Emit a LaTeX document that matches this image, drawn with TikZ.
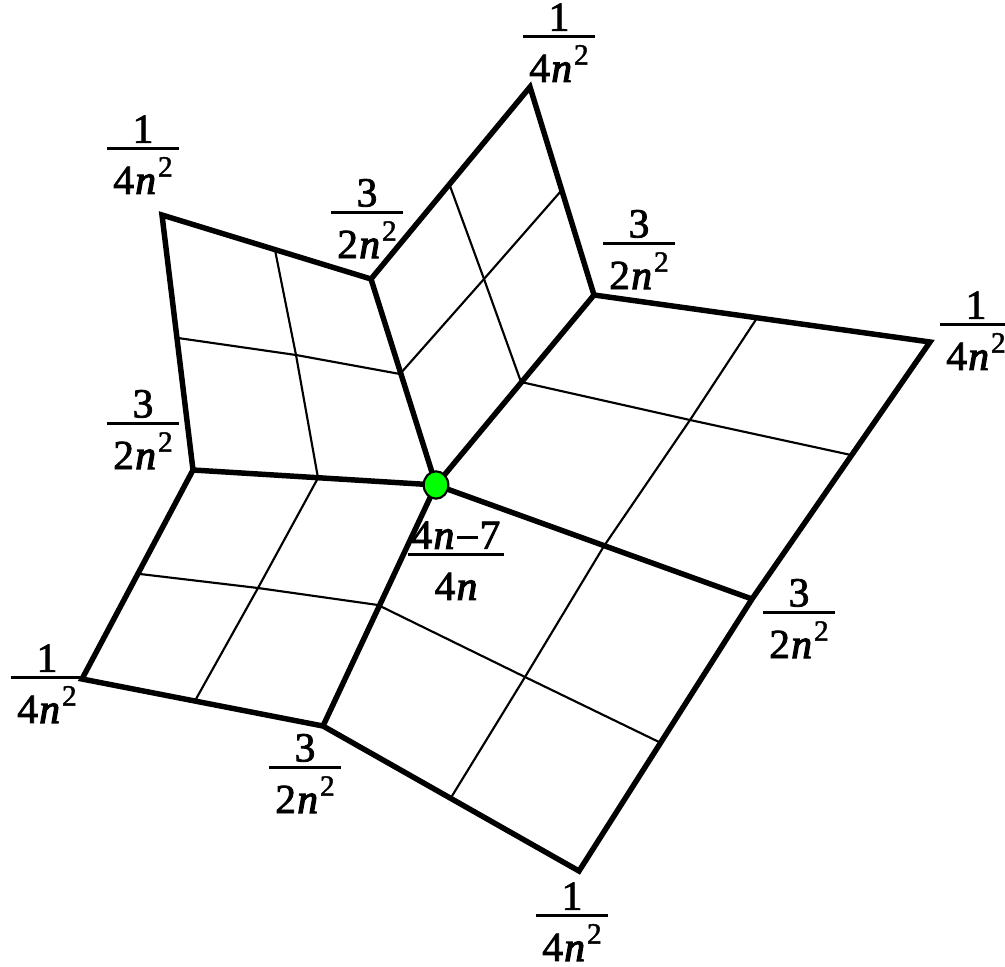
\documentclass[tikz,border=0pt]{standalone}
\usepackage{fontspec}
\setmainfont[FakeBold=2]{Liberation Serif}
\newfontfamily\itfont[FakeBold=3]{Liberation Serif Italic}
\newfontfamily\supfont[FakeBold=1.5]{Liberation Serif}
\usetikzlibrary{shapes.geometric}
\newdimen\fracw
\newcommand{\fracbox}[3]{\fracw=#1\hbox to \fracw{\vbox{\hbox to \fracw{\hss#2\hss}\kern3.1pt\hrule height 2.3pt width \fracw}\hskip-\fracw\vtop{\kern12.5pt\hbox to \fracw{\hss#3\hss}}}}
\newcommand{\en}{\kern1pt{\itfont n}}
\newcommand{\sqr}{\kern1.5pt\raisebox{13pt}[0pt][0pt]{\fontsize{22}{22}\selectfont\supfont 2}}
\newcommand{\oneover}{\fracbox{54pt}{1}{4\en\sqr}}
\newcommand{\threeover}{\fracbox{54pt}{3}{2\en\sqr}}
\tikzset{
  heavy/.style={line width=4.1pt,line join=miter,miter limit=10},
  light/.style={line width=1.6pt},
  fraclabel/.style={anchor=base,inner sep=0pt,font=\fontsize{31}{33}\selectfont},
  hub/.style={ellipse,draw=black,line width=1.6pt,fill=green,minimum width=18.5pt,minimum height=20.5pt,inner sep=0pt}
}
\begin{document}
\begin{tikzpicture}[x=0.75pt,y=-0.75pt]
\useasboundingbox (0,0) rectangle (1005,966);
% vertices
\coordinate (C) at (436,485);
\coordinate (T) at (530,87);
\coordinate (A) at (371,279);
\coordinate (B) at (594,295);
\coordinate (R) at (930,342);
\coordinate (D) at (752,599);
\coordinate (S) at (579,871);
\coordinate (E) at (323,726);
\coordinate (L) at (82,679);
\coordinate (F) at (193,470);
\coordinate (U) at (162,215);
% edge midpoints
\coordinate (mAT) at (450,186);
\coordinate (mTB) at (561,191);
\coordinate (mCA) at (400,374);
\coordinate (mCB) at (521,382);
\coordinate (mUA) at (275,250);
\coordinate (mUF) at (178,338);
\coordinate (mCF) at (318,478);
\coordinate (mBR) at (757,318);
\coordinate (mRD) at (851,455);
\coordinate (mCD) at (604,546);
\coordinate (mDS) at (659,742);
\coordinate (mSE) at (452,796);
\coordinate (mCE) at (378,605);
\coordinate (mEL) at (196,699);
\coordinate (mLF) at (140,574);
% interior crossings
\coordinate (xTop) at (484,279);
\coordinate (xUL) at (296,355);
\coordinate (xR) at (690,420);
\coordinate (xS) at (525,677);
\coordinate (xL) at (258,588);
% thin lines
\draw[light] (mAT) -- (xTop) -- (mCB);
\draw[light] (mTB) -- (xTop) -- (mCA);
\draw[light] (mUA) -- (xUL) -- (mCF);
\draw[light] (mUF) -- (xUL) -- (mCA);
\draw[light] (mBR) -- (xR) -- (mCD) -- (xS) -- (mSE);
\draw[light] (mCB) -- (xR) -- (mRD);
\draw[light] (mCE) -- (xS) -- (mDS);
\draw[light] (mLF) -- (xL) -- (mCE);
\draw[light] (mCF) -- (xL) -- (mEL);
% thick lines
\draw[heavy] (U) -- (A) -- (T) -- (B) -- (R) -- (D) -- (S) -- (E) -- (L) -- (F) -- cycle;
\draw[heavy] (C) -- (A);
\draw[heavy] (C) -- (B);
\draw[heavy] (C) -- (D);
\draw[heavy] (C) -- (E);
\draw[heavy] (C) -- (F);
\node[hub] (hubC) at (C) {};
% labels
\node[fraclabel] (lT) at (559,38) {\oneover};
\node[fraclabel] (lU) at (143,150) {\oneover};
\node[fraclabel] (lA) at (367,214) {\threeover};
\node[fraclabel] (lB) at (639,245) {\threeover};
\node[fraclabel] (lR) at (976,326) {\oneover};
\node[fraclabel] (lF) at (143,425) {\threeover};
\node[fraclabel] (lC) at (456,556) {\fracbox{72pt}{4\en\kern2pt\rule[7.5pt]{16pt}{2pt}\kern1pt7}{4\en}};
\node[fraclabel] (lD) at (799,614) {\threeover};
\node[fraclabel] (lL) at (47,679) {\oneover};
\node[fraclabel] (lE) at (305,769) {\threeover};
\node[fraclabel] (lS) at (572,917) {\oneover};
\end{tikzpicture}
\end{document}
